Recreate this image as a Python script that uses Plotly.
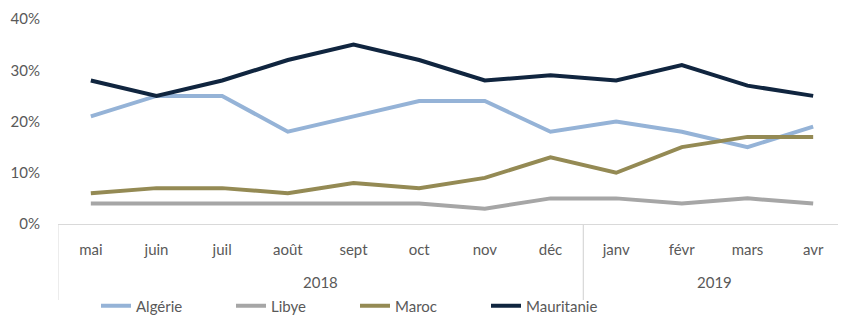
import plotly.graph_objects as go

years = ["2018", "2019"]
year_spans = [(0, 7), (8, 11)]
months = ["mai", "juin", "juil", "août", "sept", "oct", "nov", "déc",
          "janv", "févr", "mars", "avr"]

algerie = [21, 25, 25, 18, 21, 24, 24, 18, 20, 18, 15, 19]
libye = [4, 4, 4, 4, 4, 4, 3, 5, 5, 4, 5, 4]
maroc = [6, 7, 7, 6, 8, 7, 9, 13, 10, 15, 17, 17]
mauritanie = [28, 25, 28, 32, 35, 32, 28, 29, 28, 31, 27, 25]

series = [
    ("Algérie", algerie, "#95B3D7"),
    ("Libye", libye, "#A6A6A6"),
    ("Maroc", maroc, "#948A54"),
    ("Mauritanie", mauritanie, "#10253F"),
]

# page body has an 8px margin: work in page coords minus 8
OFF = 8
W, H = 846 - OFF, 317 - OFF
L, T, B_PIX = 58 - OFF, 19 - OFF, 224 - OFF
plot_h = B_PIX - T
plot_w = W - L

grey = "#D9D9D9"
font = dict(family="Lato, 'Open Sans', sans-serif", size=15, color="#595959")

def py(page_y):
    return -((page_y - OFF) - B_PIX) / plot_h

def px(page_x):
    return ((page_x - OFF) - L) / plot_w

legend_text_x = [137, 272, 396, 527]

fig = go.Figure()
legends = {}
for i, (name, vals, color) in enumerate(series):
    key = "legend" if i == 0 else f"legend{i + 1}"
    fig.add_trace(go.Scatter(
        x=months, y=[v / 100 for v in vals], name=name,
        mode="lines", line=dict(color=color, width=4), legend=key,
    ))
    legends[key] = dict(orientation="h", x=px(legend_text_x[i] - 41), xanchor="left",
                        y=py(306), yanchor="middle",
                        font=dict(size=15, color="#595959"),
                        bgcolor="rgba(0,0,0,0)")

shapes = []
annotations = []
for yr, (a, b) in zip(years, year_spans):
    for xv in (a - 0.5, b + 0.5):
        shapes.append(dict(type="line", xref="x", yref="paper", x0=xv, x1=xv,
                           y0=0, y1=py(300), line=dict(color=grey, width=1)))
    annotations.append(dict(text=yr, xref="x", yref="paper", x=(a + b) / 2,
                            y=py(282), yanchor="middle",
                            showarrow=False, font=font))

fig.update_layout(
    width=W, height=H,
    margin=dict(l=L, r=0, t=T, b=H - B_PIX, autoexpand=False),
    paper_bgcolor="white", plot_bgcolor="white",
    font=font,
    showlegend=True,
    shapes=shapes,
    annotations=annotations,
    xaxis=dict(type="category", range=[-0.5, 11.5], showline=True,
               linecolor=grey, linewidth=1, showgrid=False, ticks="",
               ticklabelstandoff=12, tickfont=font),
    yaxis=dict(range=[0, 0.4], tickvals=[0, 0.1, 0.2, 0.3, 0.4], tickformat=".0%",
               showgrid=False, zeroline=False, showline=False, ticks="",
               ticklabelstandoff=17, tickfont=font),
    **legends,
)

fig.write_html("out.html")
